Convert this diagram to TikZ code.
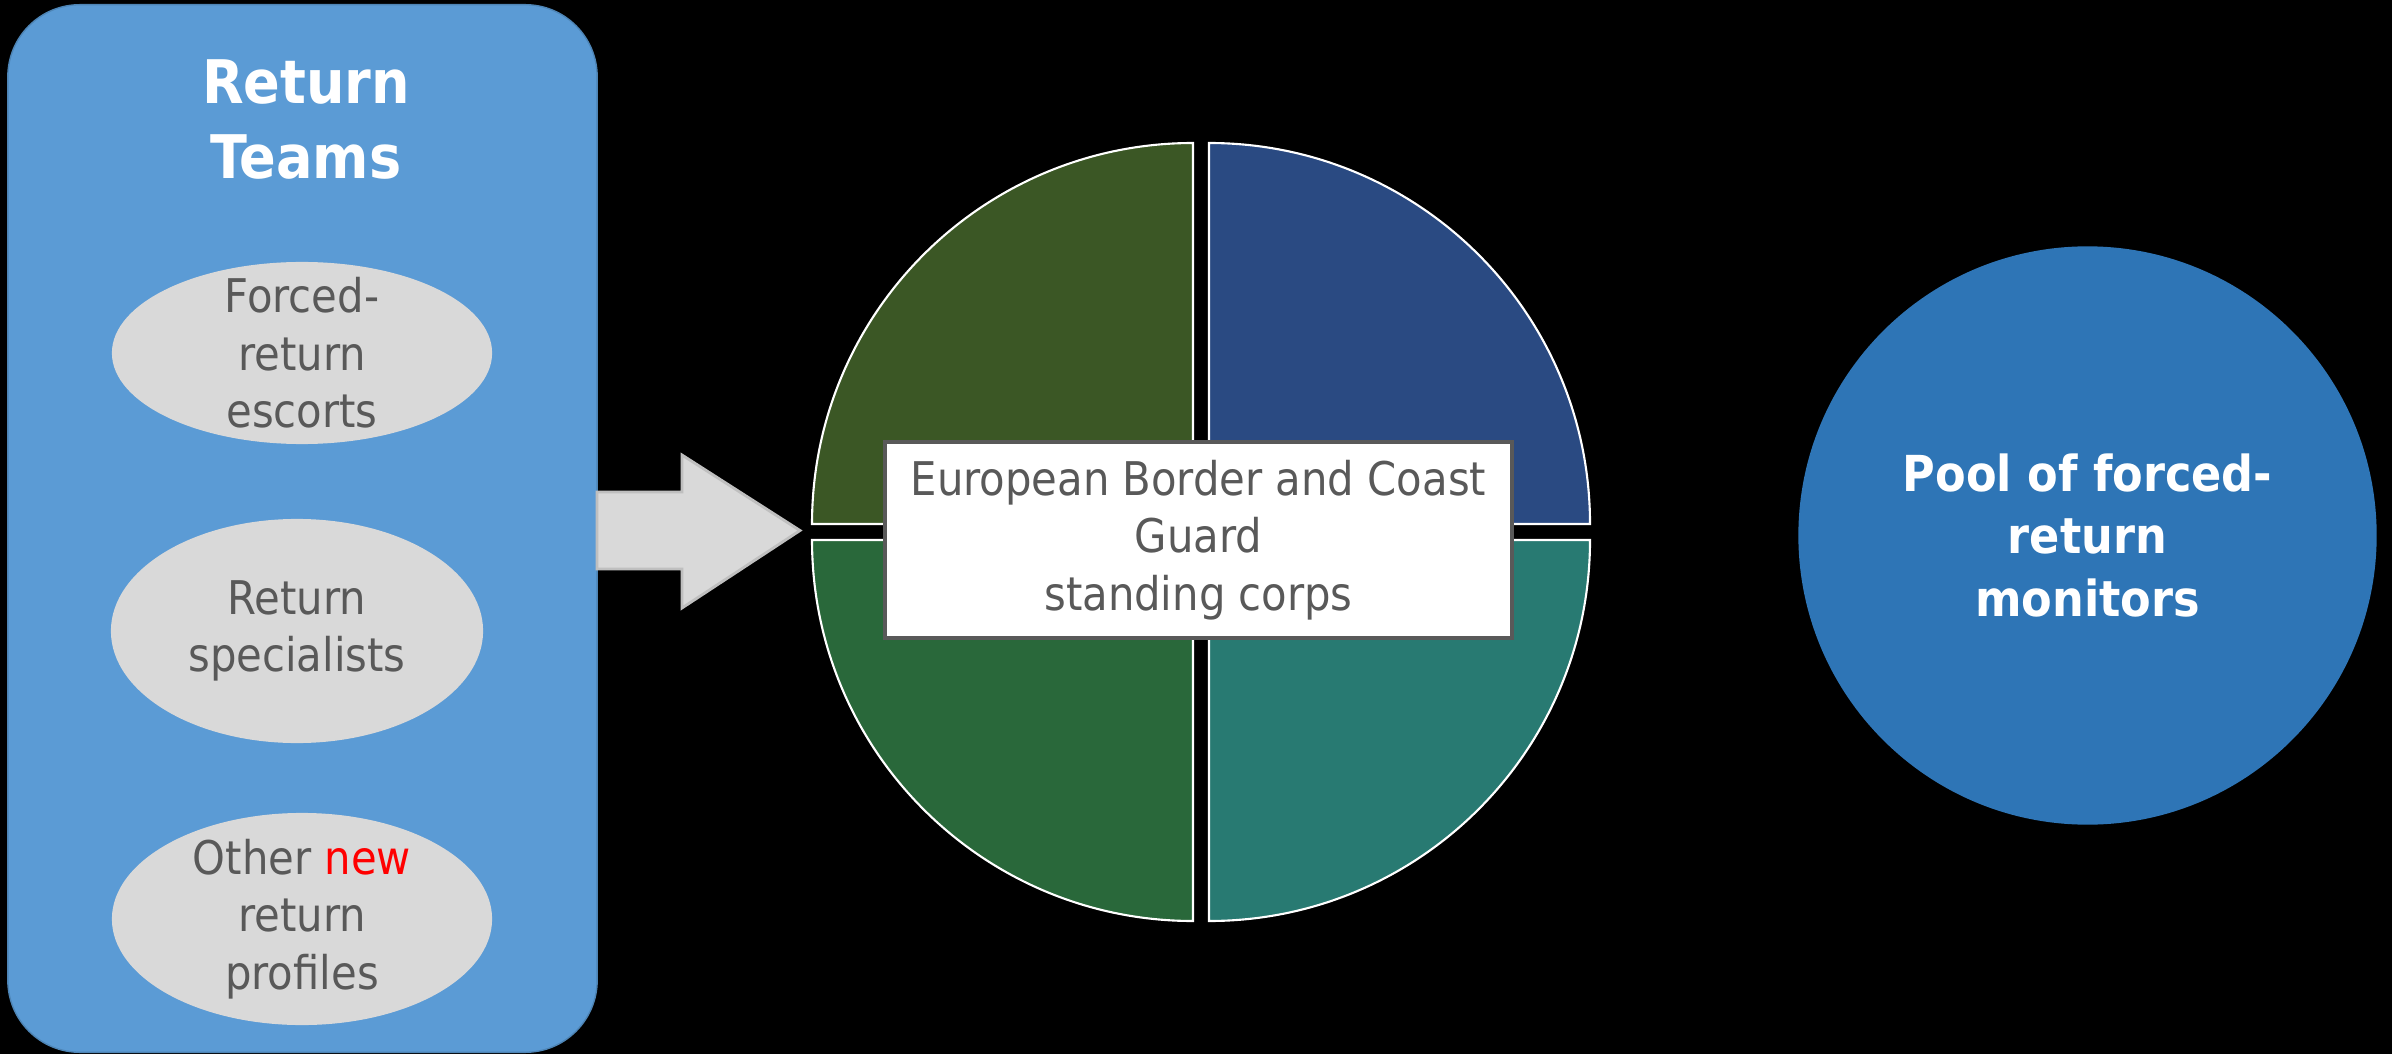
\documentclass[tikz,border=0pt]{standalone}
\usepackage{fontspec}
\setmainfont{DejaVu Sans Condensed}[BoldFont={DejaVu Sans Condensed Bold}]
\usetikzlibrary{shapes.geometric}
\definecolor{teamblue}{HTML}{5B9BD5}
\definecolor{ovalgrey}{HTML}{D9D9D9}
\definecolor{textgrey}{HTML}{595959}
\definecolor{arrowgrey}{HTML}{D9D9D9}
\definecolor{arrowedge}{HTML}{BFBFBF}
\definecolor{qtl}{HTML}{3B5725}
\definecolor{qtr}{HTML}{2A4A82}
\definecolor{qbl}{HTML}{29683A}
\definecolor{qbr}{HTML}{287A72}
\definecolor{poolblue}{HTML}{2E75B6}
\definecolor{newred}{HTML}{FF0000}
\tikzset{
  teambox/.style={rectangle, rounded corners=0.72cm, fill=teamblue, draw=teamblue!85!black, line width=0.4pt,
    minimum width=5.89cm, minimum height=10.47cm, inner sep=0pt},
  titletext/.style={text=white, align=center, font=\bfseries\fontsize{17.1}{21.6}\selectfont, inner sep=0pt},
  oval/.style={ellipse, fill=ovalgrey, inner sep=0pt},
  ovaltext/.style={text=textgrey, align=center, font=\fontsize{13.2}{16.4}\selectfont, inner sep=0pt},
  blockarrow/.style={fill=arrowgrey, draw=arrowedge, line width=0.8pt, line join=miter},
  quadrant/.style={draw=white, line width=0.6pt},
  corpsbox/.style={rectangle, fill=white, draw=textgrey, line width=1.3pt, minimum width=6.27cm, minimum height=1.96cm,
    align=center, text=textgrey, font=\fontsize{13.2}{16.3}\selectfont, inner sep=0pt},
  pool/.style={circle, fill=poolblue, minimum size=5.78cm, inner sep=0pt, align=center, text=white,
    font=\bfseries\fontsize{14.1}{17.9}\selectfont}
}
\begin{document}
\begin{tikzpicture}[x=0.01cm, y=0.01cm]
\useasboundingbox (0,0) rectangle (2392,1054);
\fill[black] (0,0) rectangle (2392,1054);

% left panel
\node[teambox] (teams) at (302.5,525.5) {};
\node[titletext] (title) at (306,934.5) {Return\\Teams};
\node[oval, minimum width=3.80cm, minimum height=1.82cm] (e1) at (302,701) {};
\node[ovaltext] (t1) at (e1.center) {Forced-\\return\\escorts};
\node[oval, minimum width=3.72cm, minimum height=2.24cm] (e2) at (297,423) {};
\node[ovaltext] (t2) at (e2.center) {Return\\specialists};
\node[oval, minimum width=3.80cm, minimum height=2.12cm] (e3) at (302,135) {};
\node[ovaltext] (t3) at (e3.center) {Other \textcolor{newred}{new}\\return\\profiles};

% block arrow
\coordinate (atail) at (597,523.5);
\coordinate (atip) at (800,523.5);
\draw[blockarrow] (597,562) -- (682,562) -- (682,599) -- (atip) -- (682,446) -- (682,485) -- (597,485) -- cycle;

% quartered circle
\coordinate (ctr) at (1201,522);
\draw[quadrant, fill=qtl] (1193,530) -- (812,530) arc[start angle=180, end angle=90, radius=381] -- cycle;
\draw[quadrant, fill=qtr] (1209,530) -- (1590,530) arc[start angle=0, end angle=90, radius=381] -- cycle;
\draw[quadrant, fill=qbl] (1193,514) -- (812,514) arc[start angle=180, end angle=270, radius=381] -- cycle;
\draw[quadrant, fill=qbr] (1209,514) -- (1590,514) arc[start angle=0, end angle=-90, radius=381] -- cycle;

\node[corpsbox] (corps) at (1198.5,514) {European Border and Coast\\Guard\\standing corps};

% pool
\node[pool] (pool) at (2087.5,518.5) {Pool of forced-\\return\\monitors};
\end{tikzpicture}
\end{document}
